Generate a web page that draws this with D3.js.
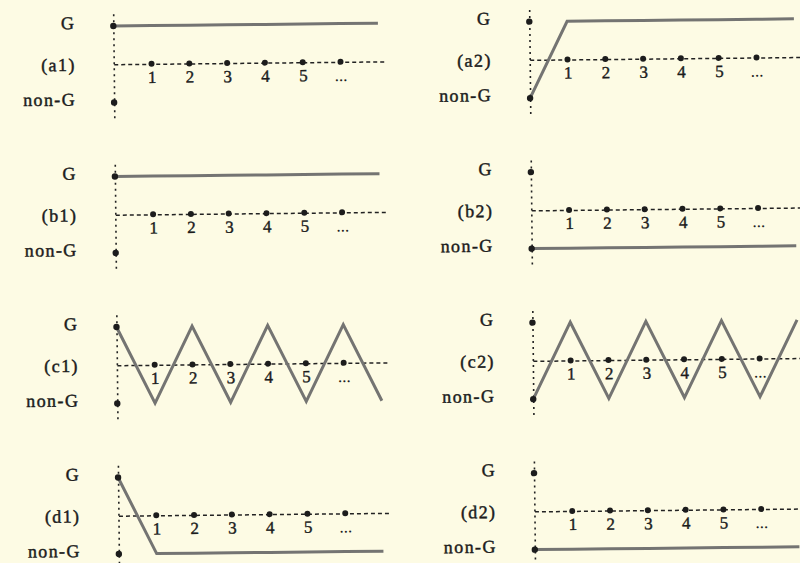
<!DOCTYPE html>
<html>
<head>
<meta charset="utf-8">
<script src="https://cdn.jsdelivr.net/npm/d3@7"></script>
<style>
  html, body { margin: 0; padding: 0; background: #fdfbe4; }
  svg { display: block; }
  text { font-family: "Liberation Serif", "Times New Roman", serif; fill: #1c1c1c; }
</style>
</head>
<body>
<svg id="chart" width="800" height="563"></svg>
<script>
// Panels, two per row: left column (a1, b1, c1, d1), right column (a2, b2, c2, d2)
const panelIds = ["a1", "a2", "b1", "b2", "c1", "c2", "d1", "d2"];

// State at each step t = 0..7 (1 = G, 0 = non-G)
const a1 = [1, 1, 1, 1, 1, 1, 1, 1];
const a2 = [0, 1, 1, 1, 1, 1, 1, 1];
const b1 = [1, 1, 1, 1, 1, 1, 1, 1];
const b2 = [0, 0, 0, 0, 0, 0, 0, 0];
const c1 = [1, 0, 1, 0, 1, 0, 1, 0];
const c2 = [0, 1, 0, 1, 0, 1, 0, 1];
const d1 = [1, 0, 0, 0, 0, 0, 0, 0];
const d2 = [0, 0, 0, 0, 0, 0, 0, 0];
const seriesById = { a1, a2, b1, b2, c1, c2, d1, d2 };

// Labels
const stateTicks = [0, 0.5, 1];
const stateNames = ["non-G", "G"];
const stepTicks = [1, 2, 3, 4, 5, 6];
const stepLabels = ["1", "2", "3", "4", "5", "..."];

// Layout
const colAxisX = [116, 532];
const rowTopY = 23;
const rowStep = 150.5;
const levelGap = 76.5;     // distance between G and non-G
const stepWidth = 37.8;    // horizontal distance between steps
const axisOverhang = 0.2;  // vertical axis extends past G / non-G
const lastStep = 7.2;

const svg = d3.select("#chart");
svg.append("rect").attr("width", 800).attr("height", 563).attr("fill", "#fdfbe4");

const root = svg.append("g").attr("transform", "rotate(-0.6, 400, 280)");

panelIds.forEach((id, i) => {
  const col = i % 2;
  const row = Math.floor(i / 2);
  const ax = colAxisX[col];
  const gy = rowTopY + row * rowStep;
  const values = seriesById[id];

  const x = d3.scaleLinear().domain([0, lastStep]).range([ax, ax + lastStep * stepWidth]);
  const y = d3.scaleLinear()
    .domain([-axisOverhang, 1 + axisOverhang])
    .range([gy + levelGap * (1 + axisOverhang), gy - levelGap * axisOverhang]);

  const g = root.append("g").attr("class", "panel panel-" + id);

  // Vertical state axis (dotted) with G / panel id / non-G labels
  const yAxis = d3.axisLeft(y)
    .tickValues(stateTicks)
    .tickSize(0)
    .tickPadding(38)
    .tickFormat(v => v === 0.5 ? "(" + id + ")" : stateNames[v]);
  const yG = g.append("g").attr("transform", `translate(${ax},0)`).call(yAxis);
  yG.select(".domain")
    .attr("stroke", "#222")
    .attr("stroke-width", 1.6)
    .attr("stroke-dasharray", "2,4");
  yG.selectAll(".tick text")
    .attr("font-size", 18)
    .attr("letter-spacing", 1.4)
    .attr("fill", "#1c1c1c")
    .attr("stroke", "#1c1c1c")
    .attr("stroke-width", 0.45)
    .attr("dy", d => d === 0.5 ? "0.32em" : "0.12em");

  // Horizontal step axis (dashed) through the middle
  const xAxis = d3.axisBottom(x)
    .tickValues(stepTicks)
    .tickSize(0)
    .tickSizeOuter(0)
    .tickPadding(7)
    .tickFormat((d, k) => stepLabels[k]);
  const xG = g.append("g").attr("transform", `translate(0,${y(0.5)})`).call(xAxis);
  xG.select(".domain")
    .attr("stroke", "#222")
    .attr("stroke-width", 1.5)
    .attr("stroke-dasharray", "4,3");
  xG.selectAll(".tick text")
    .attr("font-size", 17)
    .attr("fill", d => d === 6 ? "#666" : "#1c1c1c")
    .attr("stroke", d => d === 6 ? "none" : "#1c1c1c")
    .attr("stroke-width", 0.4);

  // State path over the steps
  const line = d3.line().x((d, k) => x(k)).y(d => y(d));
  g.append("path")
    .datum(values)
    .attr("d", line)
    .attr("fill", "none")
    .attr("stroke", "#747472")
    .attr("stroke-width", 3)
    .attr("stroke-linejoin", "miter");

  // Step markers on the dashed axis
  g.selectAll("circle.step")
    .data(stepTicks)
    .join("circle")
    .attr("class", "step")
    .attr("cx", d => x(d))
    .attr("cy", y(0.5))
    .attr("r", 3)
    .attr("fill", "#1c1c1c");

  // G and non-G markers on the state axis
  g.selectAll("circle.state")
    .data([0, 1])
    .join("circle")
    .attr("class", "state")
    .attr("cx", ax)
    .attr("cy", d => y(d))
    .attr("r", 3.2)
    .attr("fill", "#1c1c1c");
});
</script>
</body>
</html>
